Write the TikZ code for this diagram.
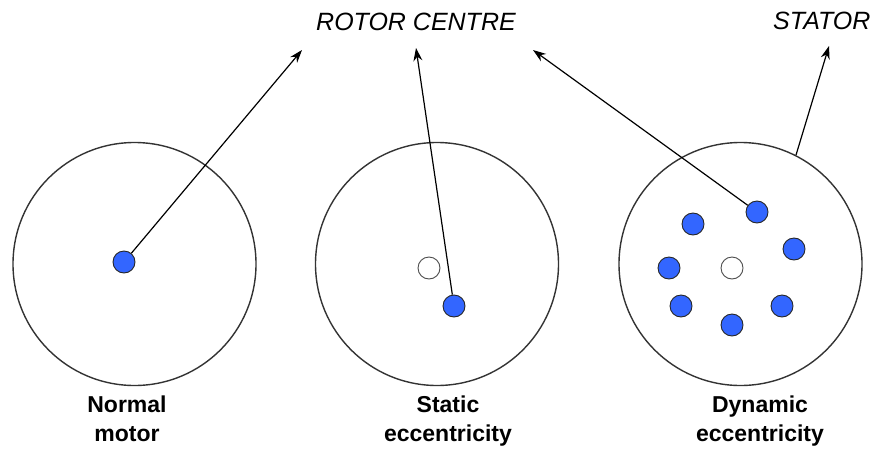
\documentclass[tikz,border=0pt]{standalone}
\usepackage{fontspec}
\setmainfont{Liberation Sans}
\usetikzlibrary{arrows.meta}
\definecolor{dotblue}{RGB}{51,102,255}
\begin{document}
\begin{tikzpicture}[x=1pt,y=-1pt,
  stator/.style={circle,draw=black!80,line width=1.4pt,minimum size=243pt,inner sep=0pt},
  rotor/.style={circle,draw=black!85,line width=0.9pt,fill=dotblue,minimum size=22pt,inner sep=0pt},
  centre/.style={circle,draw=black!70,line width=0.9pt,fill=white,minimum size=22pt,inner sep=0pt},
  pointer/.style={line width=1.2pt,-{Stealth[length=13pt,width=9pt]}},
  title/.style={font=\fontsize{25}{29}\selectfont\itshape,inner sep=0pt},
  caption/.style={font=\fontsize{23}{29}\selectfont\bfseries,align=center,inner sep=0pt}]
\useasboundingbox (0,0) rectangle (877,450);
% stators
\node[stator] (c1) at (134.5,264) {};
\node[stator] (c2) at (437,264) {};
\node[stator] (c3) at (740.5,264) {};
% rotor positions
\node[rotor] (r1) at (124,262) {};
\node[centre] (o2) at (429,268) {};
\node[rotor] (r2) at (454,306) {};
\node[centre] (o3) at (732,268) {};
\node[rotor] (d1) at (757,212) {};
\node[rotor] (d2) at (693,224) {};
\node[rotor] (d3) at (794,249) {};
\node[rotor] (d4) at (669,268) {};
\node[rotor] (d5) at (681,306) {};
\node[rotor] (d6) at (782,306) {};
\node[rotor] (d7) at (732,325) {};
% titles
\node[title,anchor=base west] (rc) at (316,30) {ROTOR CENTRE};
\node[title,anchor=base west] (st) at (773,29) {STATOR};
% arrow tips
\coordinate (t1) at (302,50);
\coordinate (t2) at (416,48);
\coordinate (t3) at (533,50);
\coordinate (t4) at (829,46);
\draw[pointer] (r1) -- (t1);
\draw[pointer] (r2) -- (t2);
\draw[pointer] (d1) -- (t3);
\draw[pointer] (c3.63) -- (t4);
% captions
\node[caption,anchor=base] (l1) at (127,441) {Normal\\motor};
\node[caption,anchor=base] (l2) at (448,441) {Static\\eccentricity};
\node[caption,anchor=base] (l3) at (760,441) {Dynamic\\eccentricity};
\end{tikzpicture}
\end{document}
